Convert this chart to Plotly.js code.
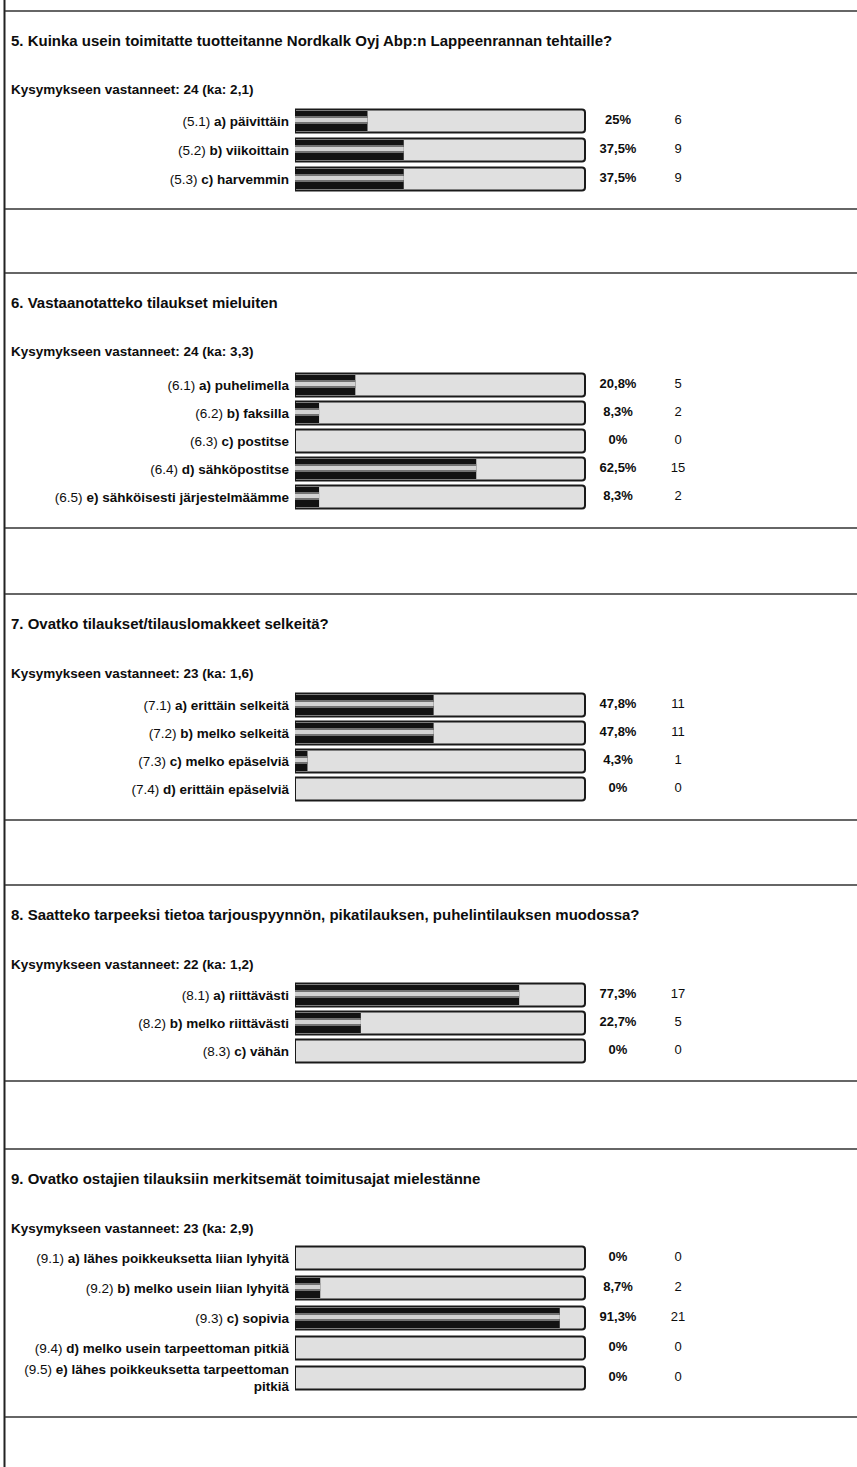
<!DOCTYPE html>
<html>
<head>
<meta charset="utf-8">
<script src="https://cdn.plot.ly/plotly-3.0.1.min.js"></script>
<style>
html,body{margin:0;padding:0;background:#fff;}
#chart{width:857px;height:1467px;}
</style>
</head>
<body>
<div id="chart"></div>
<script>
// ---------- DATA ----------
const titles = [
  '5. Kuinka usein toimitatte tuotteitanne Nordkalk Oyj Abp:n Lappeenrannan tehtaille?',
  '6. Vastaanotatteko tilaukset mieluiten',
  '7. Ovatko tilaukset/tilauslomakkeet selkeitä?',
  '8. Saatteko tarpeeksi tietoa tarjouspyynnön, pikatilauksen, puhelintilauksen muodossa?',
  '9. Ovatko ostajien tilauksiin merkitsemät toimitusajat mielestänne'
];
const answeredTexts = [
  'Kysymykseen vastanneet: 24 (ka: 2,1)',
  'Kysymykseen vastanneet: 24 (ka: 3,3)',
  'Kysymykseen vastanneet: 23 (ka: 1,6)',
  'Kysymykseen vastanneet: 22 (ka: 1,2)',
  'Kysymykseen vastanneet: 23 (ka: 2,9)'
];

const q5Codes = ['(5.1)', '(5.2)', '(5.3)'];
const q5Options = ['a) päivittäin', 'b) viikoittain', 'c) harvemmin'];
const q5Percent = [25, 37.5, 37.5];
const q5Counts = [6, 9, 9];

const q6Codes = ['(6.1)', '(6.2)', '(6.3)', '(6.4)', '(6.5)'];
const q6Options = ['a) puhelimella', 'b) faksilla', 'c) postitse', 'd) sähköpostitse', 'e) sähköisesti järjestelmäämme'];
const q6Percent = [20.8, 8.3, 0, 62.5, 8.3];
const q6Counts = [5, 2, 0, 15, 2];

const q7Codes = ['(7.1)', '(7.2)', '(7.3)', '(7.4)'];
const q7Options = ['a) erittäin selkeitä', 'b) melko selkeitä', 'c) melko epäselviä', 'd) erittäin epäselviä'];
const q7Percent = [47.8, 47.8, 4.3, 0];
const q7Counts = [11, 11, 1, 0];

const q8Codes = ['(8.1)', '(8.2)', '(8.3)'];
const q8Options = ['a) riittävästi', 'b) melko riittävästi', 'c) vähän'];
const q8Percent = [77.3, 22.7, 0];
const q8Counts = [17, 5, 0];

const q9Codes = ['(9.1)', '(9.2)', '(9.3)', '(9.4)', '(9.5)'];
const q9Options = ['a) lähes poikkeuksetta liian lyhyitä', 'b) melko usein liian lyhyitä', 'c) sopivia', 'd) melko usein tarpeettoman pitkiä', 'e) lähes poikkeuksetta tarpeettoman\npitkiä'];
const q9Percent = [0, 8.7, 91.3, 0, 0];
const q9Counts = [0, 2, 21, 0, 0];

const questions = [
  {codes: q5Codes, options: q5Options, pct: q5Percent, counts: q5Counts},
  {codes: q6Codes, options: q6Options, pct: q6Percent, counts: q6Counts},
  {codes: q7Codes, options: q7Options, pct: q7Percent, counts: q7Counts},
  {codes: q8Codes, options: q8Options, pct: q8Percent, counts: q8Counts},
  {codes: q9Codes, options: q9Options, pct: q9Percent, counts: q9Counts}
];

// ---------- LAYOUT GEOMETRY (pixels) ----------
const W = 857, H = 1467;
const sections = [
  {top: 11,   bottom: 209,  first: 121,  step: 29},
  {top: 273,  bottom: 528,  first: 385,  step: 28},
  {top: 594,  bottom: 820,  first: 705,  step: 28},
  {top: 885,  bottom: 1081, first: 995,  step: 28},
  {top: 1149, bottom: 1417, first: 1258, step: 30}
];
const barLeft = 295, barRight = 585, plotRight = 700;
const barPx = 23;
const pctCenterPx = 618, countCenterPx = 678;
const FONT = 'Liberation Sans, Arial, sans-serif';
const INK = '#0d0d0d';

const py = p => 1 - p / H;
const px = p => p / W;
const unitsPerPx = 100 / (barRight - barLeft);
const xMax = (plotRight - barLeft) * unitsPerPx;
const pctX = (pctCenterPx - barLeft) * unitsPerPx;
const countX = (countCenterPx - barLeft) * unitsPerPx;

const fmtPct = v => String(v).replace('.', ',') + '%';
const boldLines = s => s.split('\n').map(l => '<b>' + l + '</b>').join('<br>');

const traces = [];
const layout = {
  width: W, height: H,
  margin: {l: 0, r: 0, t: 0, b: 0},
  paper_bgcolor: '#fff', plot_bgcolor: 'rgba(0,0,0,0)',
  showlegend: false,
  barmode: 'overlay',
  font: {family: FONT, color: INK, size: 13},
  shapes: [],
  annotations: []
};

// left border
layout.shapes.push({type: 'line', xref: 'paper', yref: 'paper', x0: px(4.5), x1: px(4.5), y0: 0, y1: 1,
  line: {color: '#222', width: 2}});

questions.forEach((q, i) => {
  const s = sections[i];
  const n = q.codes.length;
  const ax = i === 0 ? '' : String(i + 1);
  const xa = 'x' + ax, ya = 'y' + ax;
  const w = barPx / s.step;

  // track (full 100 %)
  traces.push({type: 'bar', orientation: 'h', xaxis: xa, yaxis: ya,
    y: q.codes, x: q.pct.map(() => 100), width: w,
    marker: {color: '#e0e0e0', line: {color: '#1a1a1a', width: 2}, cornerradius: 3},
    hoverinfo: 'skip'});
  // dark value bar
  traces.push({type: 'bar', orientation: 'h', xaxis: xa, yaxis: ya,
    y: q.codes, x: q.pct, width: (barPx - 3) / s.step,
    marker: {color: '#121212', line: {width: 0}},
    hoverinfo: 'skip'});
  // soft highlight
  traces.push({type: 'bar', orientation: 'h', xaxis: xa, yaxis: ya,
    y: q.codes, x: q.pct, width: 8 / s.step, offset: -5 / s.step,
    marker: {color: 'rgba(125,125,125,0.9)', line: {width: 0}},
    hoverinfo: 'skip'});
  // bright highlight core
  traces.push({type: 'bar', orientation: 'h', xaxis: xa, yaxis: ya,
    y: q.codes, x: q.pct, width: 4 / s.step, offset: -3 / s.step,
    marker: {color: 'rgba(222,222,222,0.9)', line: {width: 0}},
    hoverinfo: 'skip'});
  // percent labels
  traces.push({type: 'scatter', mode: 'text', xaxis: xa, yaxis: ya,
    y: q.codes, x: q.pct.map(() => pctX), text: q.pct.map(v => '<b>' + fmtPct(v) + '</b>'),
    textposition: 'middle center', textfont: {size: 13, color: INK, family: FONT},
    cliponaxis: false, hoverinfo: 'skip'});
  // count labels
  traces.push({type: 'scatter', mode: 'text', xaxis: xa, yaxis: ya,
    y: q.codes, x: q.counts.map(() => countX), text: q.counts.map(String),
    textposition: 'middle center', textfont: {size: 13, color: INK, family: FONT},
    cliponaxis: false, hoverinfo: 'skip'});

  const top = s.first - s.step / 2;
  const bot = s.first + (n - 1) * s.step + s.step / 2;
  layout['xaxis' + ax] = {domain: [px(barLeft), px(plotRight)], range: [0, xMax], anchor: ya,
    visible: false, fixedrange: true};
  layout['yaxis' + ax] = {domain: [py(bot), py(top)], anchor: xa,
    type: 'category', categoryorder: 'array', categoryarray: q.codes,
    range: [n - 0.5, -0.5], tickmode: 'array', tickvals: q.codes,
    ticktext: q.codes.map((c, k) => c + ' ' + boldLines(q.options[k])),
    ticks: '', ticklabelstandoff: 5, showgrid: false, zeroline: false, showline: false,
    tickfont: {family: FONT, size: 13.5, color: INK}, fixedrange: true};

  // separators
  [s.top, s.bottom].forEach(yp => layout.shapes.push({type: 'line', xref: 'paper', yref: 'paper',
    x0: px(5), x1: 1, y0: py(yp), y1: py(yp), line: {color: '#333', width: 1.6}}));

  // title & respondents
  layout.annotations.push({xref: 'paper', yref: 'paper', x: px(9), y: py(s.top + 29),
    xanchor: 'left', yanchor: 'middle', showarrow: false,
    text: '<b>' + titles[i] + '</b>', font: {family: FONT, size: 15, color: INK}});
  layout.annotations.push({xref: 'paper', yref: 'paper', x: px(9), y: py(s.top + 79),
    xanchor: 'left', yanchor: 'middle', showarrow: false,
    text: '<b>' + answeredTexts[i] + '</b>', font: {family: FONT, size: 13.5, color: INK}});
});

Plotly.newPlot('chart', traces, layout, {staticPlot: true, displayModeBar: false});
</script>
</body>
</html>
